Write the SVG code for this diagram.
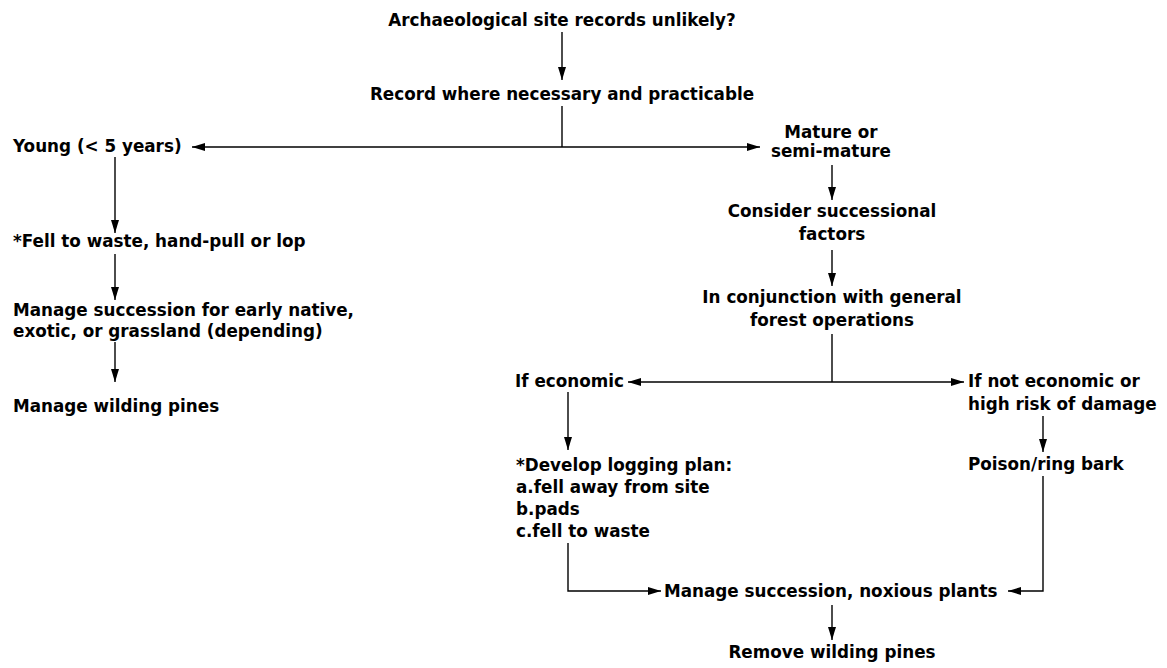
<svg xmlns="http://www.w3.org/2000/svg" width="1167" height="668" viewBox="0 0 1167 668">
<style>
text{font-family:"DejaVu Sans","Liberation Sans",Arial,sans-serif;font-size:16.8px;font-weight:bold;fill:#000}
.c{text-anchor:middle}
.ln{stroke:#000;stroke-width:1.4;fill:none}
.a{marker-end:url(#ah)}
.b{marker-start:url(#ah);marker-end:url(#ah)}
</style>
<defs>
<marker id="ah" viewBox="0 0 13 8" refX="13" refY="4" markerWidth="13" markerHeight="8" orient="auto-start-reverse" markerUnits="userSpaceOnUse">
<path d="M0,0 L13,4 L0,8 z" fill="#000"/>
</marker>
</defs>
<rect width="1167" height="668" fill="#fff"/>
<g id="n1"><text class="c" x="562" y="26">Archaeological site records unlikely?</text></g>
<g id="n2"><text class="c" x="562" y="100">Record where necessary and practicable</text></g>
<g id="n3"><text x="13" y="152">Young (&lt; 5 years)</text></g>
<g id="n4"><text class="c" x="831" y="138">Mature or</text><text class="c" x="831" y="157">semi-mature</text></g>
<g id="n5"><text x="13" y="247">*Fell to waste, hand-pull or lop</text></g>
<g id="n6"><text x="13" y="316">Manage succession for early native,</text><text x="13" y="337">exotic, or grassland (depending)</text></g>
<g id="n7"><text x="13" y="412">Manage wilding pines</text></g>
<g id="n8"><text class="c" x="832" y="217">Consider successional</text><text class="c" x="832" y="240">factors</text></g>
<g id="n9"><text class="c" x="832" y="303">In conjunction with general</text><text class="c" x="832" y="326">forest operations</text></g>
<g id="n10"><text x="515" y="387">If economic</text></g>
<g id="n11"><text x="968" y="387">If not economic or</text><text x="968" y="410">high risk of damage</text></g>
<g id="n12"><text x="516" y="471">*Develop logging plan:</text><text x="516" y="493">a.fell away from site</text><text x="516" y="515">b.pads</text><text x="516" y="537">c.fell to waste</text></g>
<g id="n13"><text x="968" y="470">Poison/ring bark</text></g>
<g id="n14"><text x="664" y="597">Manage succession, noxious plants</text></g>
<g id="n15"><text class="c" x="832" y="658">Remove wilding pines</text></g>
<g id="connectors">
<line class="ln a" x1="562" y1="32" x2="562" y2="80"/>
<line class="ln" x1="562" y1="106" x2="562" y2="147"/>
<line class="ln b" x1="192" y1="147" x2="760" y2="147"/>
<line class="ln a" x1="115" y1="157" x2="115" y2="233"/>
<line class="ln a" x1="115" y1="254" x2="115" y2="300"/>
<line class="ln a" x1="115" y1="342" x2="115" y2="382"/>
<line class="ln a" x1="832" y1="165" x2="832" y2="200"/>
<line class="ln a" x1="832" y1="250" x2="832" y2="286"/>
<line class="ln" x1="832" y1="334" x2="832" y2="382"/>
<line class="ln b" x1="628" y1="382" x2="964" y2="382"/>
<line class="ln a" x1="568" y1="392" x2="568" y2="450"/>
<line class="ln a" x1="1043" y1="416" x2="1043" y2="452"/>
<path class="ln a" d="M568,543 V591 H661"/>
<path class="ln a" d="M1043,476 V591 H1008"/>
<line class="ln a" x1="832" y1="605" x2="832" y2="640"/>
</g>
</svg>
